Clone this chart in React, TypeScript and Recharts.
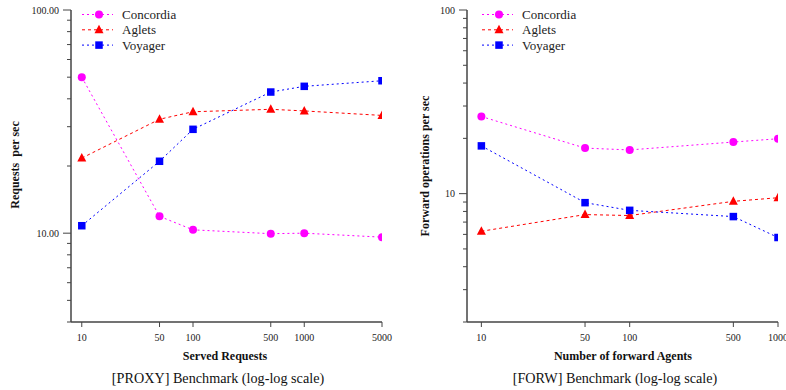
import React from "react";
import { LineChart, Line, XAxis, YAxis, Legend } from "recharts";

// [PROXY] benchmark
const proxyRequests = [10, 50, 100, 500, 1000, 5000];
const proxyConcordia = [50, 11.9, 10.35, 9.95, 10, 9.6];
const proxyAglets = [21.7, 32.4, 35, 35.9, 35.3, 33.7];
const proxyVoyager = [10.8, 21, 29.2, 42.9, 45.5, 48.2];

// [FORW] benchmark
const forwAgents = [10, 50, 100, 500, 1000];
const forwConcordia = [26.3, 17.7, 17.3, 19.1, 19.9];
const forwAglets = [6.24, 7.69, 7.6, 9.08, 9.5];
const forwVoyager = [18.2, 8.93, 8.11, 7.5, 5.77];

const proxyXTicks = [10, 50, 100, 500, 1000, 5000];
const forwXTicks = [10, 50, 100, 500, 1000];
const proxyYTicks = [4, 5, 6, 7, 8, 9, 10, 20, 30, 40, 50, 60, 70, 80, 90, 100];
const forwYTicks = [2, 3, 4, 5, 6, 7, 8, 9, 10, 20, 30, 40, 50, 60, 70, 80, 90, 100];

const FONT = '"Liberation Serif", "Times New Roman", serif';
const AXIS = "#444";

const series = [
  { key: "concordia", name: "Concordia", color: "#ff00ff", dash: "2 3", marker: "circle" },
  { key: "aglets", name: "Aglets", color: "#ff0000", dash: "3 3", marker: "triangle" },
  { key: "voyager", name: "Voyager", color: "#0000ff", dash: "2 3", marker: "square" },
];

const proxyData = proxyRequests.map((x, i) => ({
  x,
  concordia: proxyConcordia[i],
  aglets: proxyAglets[i],
  voyager: proxyVoyager[i],
}));

const forwData = forwAgents.map((x, i) => ({
  x,
  concordia: forwConcordia[i],
  aglets: forwAglets[i],
  voyager: forwVoyager[i],
}));

const Marker = ({ cx, cy, type, color }: { cx: number; cy: number; type: string; color: string }) => {
  if (cx == null || cy == null) return null;
  if (type === "circle") return <circle cx={cx} cy={cy} r={4} fill={color} />;
  if (type === "triangle")
    return (
      <polygon
        points={`${cx},${cy - 5} ${cx - 4.5},${cy + 3.5} ${cx + 4.5},${cy + 3.5}`}
        fill={color}
      />
    );
  return <rect x={cx - 3.75} y={cy - 3.75} width={7.5} height={7.5} fill={color} />;
};

const makeYTick = (majors: number[], fmt: (v: number) => string) => (props: any) => {
  const { x, y, payload } = props;
  const major = majors.includes(payload.value);
  return (
    <g>
      <line x1={x} x2={x - (major ? 8 : 4)} y1={y} y2={y} stroke={AXIS} strokeWidth={1} />
      {major && (
        <text x={x - 12} y={y} dy={3.5} textAnchor="end" fontSize={10} fill="#222" style={{ fontFamily: FONT }}>
          {fmt(payload.value)}
        </text>
      )}
    </g>
  );
};

const XTick = (props: any) => {
  const { x, y, payload } = props;
  return (
    <text x={x} y={y} dy={7.5} textAnchor="middle" fontSize={10} fill="#222" style={{ fontFamily: FONT }}>
      {payload.value}
    </text>
  );
};

const renderLegend = (props: any) => {
  const payload = [...(props.payload || [])].sort(
    (a: any, b: any) =>
      series.findIndex((s) => s.name === a.value) - series.findIndex((s) => s.name === b.value)
  );
  return (
    <svg width={130} height={48} style={{ display: "block" }}>
      {payload.map((entry: any, i: number) => {
        const s = series.find((d) => d.name === entry.value) || series[i];
        const cy = 7.5 + i * 15.3;
        return (
          <g key={s.key}>
            <line x1={0} x2={31} y1={cy} y2={cy} stroke={s.color} strokeDasharray={s.dash} strokeWidth={1} />
            <Marker cx={17} cy={cy} type={s.marker} color={s.color} />
            <text x={40} y={cy + 4.5} fontSize={13} fill="#222" style={{ fontFamily: FONT }}>
              {s.name}
            </text>
          </g>
        );
      })}
    </svg>
  );
};

const Panel = ({
  data,
  width,
  yWidth,
  rightMargin,
  xDomain,
  xTicks,
  yDomain,
  yTicks,
  yFmt,
}: {
  data: any[];
  width: number;
  yWidth: number;
  rightMargin: number;
  xDomain: [number, number];
  xTicks: number[];
  yDomain: [number, number];
  yTicks: number[];
  yFmt: (v: number) => string;
}) => (
  <LineChart
    width={width}
    height={390}
    data={data}
    margin={{ top: 10, right: rightMargin, bottom: 38, left: 0 }}
  >
    <XAxis
      dataKey="x"
      type="number"
      scale="log"
      domain={xDomain}
      ticks={xTicks}
      interval={0}
      allowDataOverflow
      height={30}
      tickSize={5}
      tickMargin={6}
      axisLine={{ stroke: AXIS, strokeWidth: 1.5 }}
      tickLine={{ stroke: AXIS }}
      tick={<XTick />}
    />
    <YAxis
      type="number"
      scale="log"
      domain={yDomain}
      ticks={yTicks}
      interval={0}
      allowDataOverflow
      width={yWidth}
      tickSize={0}
      tickMargin={0}
      axisLine={{ stroke: AXIS, strokeWidth: 1.5 }}
      tickLine={false}
      tick={makeYTick([10, 100], yFmt)}
    />
    <Legend
      layout="vertical"
      align="center"
      verticalAlign="middle"
      content={renderLegend}
      wrapperStyle={{ left: 82, top: 6.5, width: 130, height: 48 }}
    />
    {series.map((s) => (
      <Line
        key={s.key}
        dataKey={s.key}
        name={s.name}
        stroke={s.color}
        strokeWidth={1}
        strokeDasharray={s.dash}
        isAnimationActive={false}
        dot={(p: any) => <Marker key={`${s.key}-${p.index}`} cx={p.cx} cy={p.cy} type={s.marker} color={s.color} />}
        activeDot={false}
      />
    ))}
  </LineChart>
);

const textBase: React.CSSProperties = {
  position: "absolute",
  fontFamily: FONT,
  color: "#111",
  textAlign: "center",
  whiteSpace: "pre",
};

const titleStyle: React.CSSProperties = {
  ...textBase,
  width: 200,
  fontSize: 12,
  fontWeight: "bold",
  lineHeight: "16px",
};

export default function App() {
  return (
    <div
      style={{
        position: "absolute",
        left: 0,
        top: 0,
        width: 786,
        height: 390,
        background: "#fff",
        overflow: "hidden",
        fontFamily: FONT,
      }}
    >
      <div style={{ position: "absolute", left: 0, top: 0 }}>
        <Panel
          data={proxyData}
          width={400}
          yWidth={71}
          rightMargin={18}
          xDomain={[8, 5000]}
          xTicks={proxyXTicks}
          yDomain={[4, 100]}
          yTicks={proxyYTicks}
          yFmt={(v) => v.toFixed(2)}
        />
      </div>
      <div style={{ position: "absolute", left: 400, top: 0 }}>
        <Panel
          data={forwData}
          width={386}
          yWidth={67}
          rightMargin={8}
          xDomain={[8, 1000]}
          xTicks={forwXTicks}
          yDomain={[2, 100]}
          yTicks={forwYTicks}
          yFmt={(v) => String(v)}
        />
      </div>

      {/* axis titles */}
      <div style={{ ...titleStyle, left: 125, top: 348 }}>Served Requests</div>
      <div style={{ ...titleStyle, left: 523, top: 348 }}>Number of forward Agents</div>
      <div style={{ ...titleStyle, left: 15 - 100, top: 165 - 8, transform: "rotate(-90deg)" }}>
        {"Requests  per sec"}
      </div>
      <div style={{ ...titleStyle, left: 425 - 100, top: 166 - 8, transform: "rotate(-90deg)" }}>
        Forward operations per sec
      </div>

      {/* captions */}
      <div style={{ ...textBase, left: 218 - 150, top: 369, width: 300, fontSize: 14.2, lineHeight: "18px" }}>
        [PROXY] Benchmark (log-log scale)
      </div>
      <div style={{ ...textBase, left: 615 - 150, top: 369, width: 300, fontSize: 14.2, lineHeight: "18px" }}>
        [FORW] Benchmark (log-log scale)
      </div>
    </div>
  );
}
